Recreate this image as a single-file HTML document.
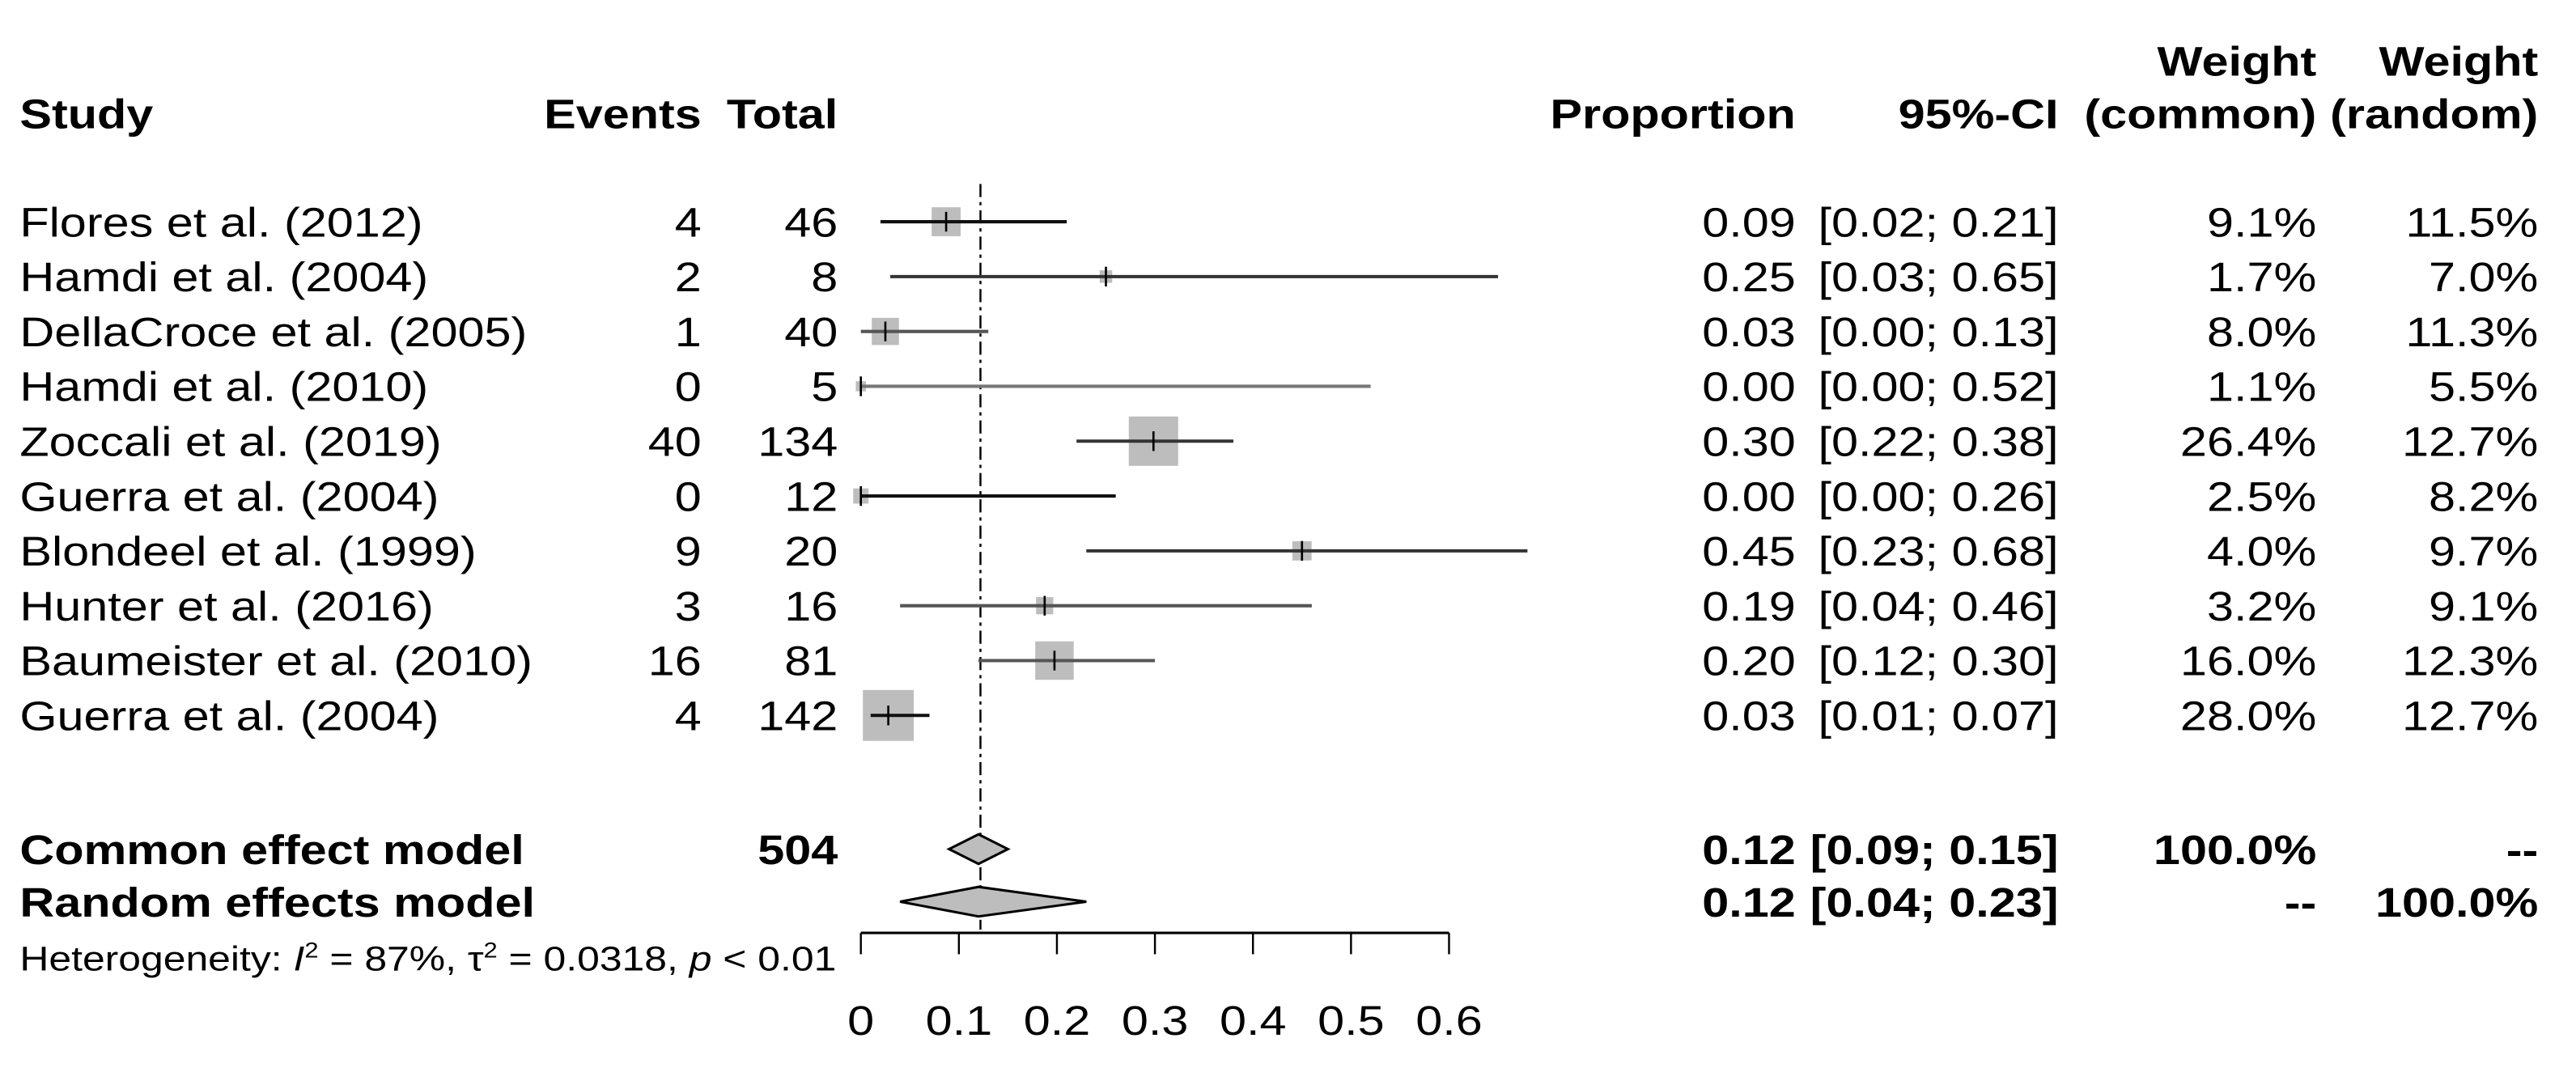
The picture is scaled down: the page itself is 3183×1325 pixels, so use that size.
<!DOCTYPE html>
<html><head><meta charset="utf-8"><style>
html,body{margin:0;padding:0;background:#fff;}
svg{display:block;}
text{font-family:"Liberation Sans",Arial,sans-serif;fill:#000;}
</style></head><body>
<svg id="chart" width="3183" height="1325" viewBox="0 0 1568 652.7" preserveAspectRatio="none" xmlns="http://www.w3.org/2000/svg"></svg>
<script>
const studies=["Flores et al. (2012)","Hamdi et al. (2004)","DellaCroce et al. (2005)","Hamdi et al. (2010)","Zoccali et al. (2019)","Guerra et al. (2004)","Blondeel et al. (1999)","Hunter et al. (2016)","Baumeister et al. (2010)","Guerra et al. (2004)"];
const events=[4,2,1,0,40,0,9,3,16,4];
const totals=[46,8,40,5,134,12,20,16,81,142];
const props=[0.087,0.25,0.025,0,0.2985,0,0.45,0.1875,0.1975,0.028];
const ciLow=[0.02,0.03,0.00,0.00,0.22,0.00,0.23,0.04,0.12,0.01];
const ciHigh=[0.21,0.65,0.13,0.52,0.38,0.26,0.68,0.46,0.30,0.07];
const wCommon=[9.1,1.7,8.0,1.1,26.4,2.5,4.0,3.2,16.0,28.0];
const wRandom=[11.5,7.0,11.3,5.5,12.7,8.2,9.7,9.1,12.3,12.7];
const propLabels=["0.09","0.25","0.03","0.00","0.30","0.00","0.45","0.19","0.20","0.03"];
const ciLabels=["[0.02; 0.21]","[0.03; 0.65]","[0.00; 0.13]","[0.00; 0.52]","[0.22; 0.38]","[0.00; 0.26]","[0.23; 0.68]","[0.04; 0.46]","[0.12; 0.30]","[0.01; 0.07]"];
const lineColors=["#111","#333","#555","#777","#333","#111","#333","#555","#555","#111"];
const pooledNames=["Common effect model","Random effects model"];
const pooledEst=[0.12,0.12];
const pooledLow=[0.09,0.04];
const pooledHigh=[0.15,0.23];
const pooledCI=["[0.09; 0.15]","[0.04; 0.23]"];
const pooledWC=["100.0%","--"];
const pooledWR=["--","100.0%"];
const ticks=[0,0.1,0.2,0.3,0.4,0.5,0.6];
const refLine=0.122;

const svg=document.getElementById('chart');
const NS="http://www.w3.org/2000/svg";
const x0=524, pxPer=596.7;
const SX=1.17;
const FS=25;
const X=v=>x0+v*pxPer;
const rowY=i=>135+i*33.4;
function mk(tag,attrs){const e=document.createElementNS(NS,tag);for(const k in attrs)e.setAttribute(k,attrs[k]);svg.appendChild(e);return e;}
function txt(s,x,y,anchor,size,bold){const t=mk('text',{x:x/SX,y:y,transform:`scale(${SX},1)`,'text-anchor':anchor||'start','font-size':size||FS,'font-weight':bold?'bold':'normal'});t.textContent=s;return t;}

let t;
t=txt("Weight",1410,46,'end',FS,true);


t=txt("Weight",1545,46,'end',FS,true);


const heads=[["Study",12,'start'],["Events",427,'end'],["Total",510,'end'],["Proportion",1093,'end'],["95%-CI",1253,'end'],["(common)",1410,'end'],["(random)",1545,'end']];
heads.forEach(h=>{const e=txt(h[0],h[1],78,h[2],FS,true);

});

t=mk('line',{x1:X(refLine),x2:X(refLine),y1:112,y2:566,stroke:'#000','stroke-width':1.2,'stroke-dasharray':'8,3,2,3'});



studies.forEach((s,i)=>{
  const y=rowY(i);
  let e=txt(s,12,y+9,'start',FS,false);
  
  
  e=txt(String(events[i]),427,y+9,'end',FS,false);
  
  
  e=txt(String(totals[i]),510,y+9,'end',FS,false);
  
  
  const side=5.85*Math.sqrt(wCommon[i]);
  e=mk('rect',{x:X(props[i])-side/2,y:y-side/2,width:side,height:side,fill:'#bdbdbd'});
  
  
  e=mk('line',{x1:X(ciLow[i]),x2:X(ciHigh[i]),y1:y,y2:y,stroke:lineColors[i],'stroke-width':2});
  
  
  e=mk('line',{x1:X(props[i]),x2:X(props[i]),y1:y-6,y2:y+6,stroke:'#000','stroke-width':1.3});
  
  
  e=txt(propLabels[i],1093,y+9,'end',FS,false);
  
  
  e=txt(ciLabels[i],1253,y+9,'end',FS,false);
  
  
  e=txt(wCommon[i].toFixed(1)+"%",1410,y+9,'end',FS,false);
  
  
  e=txt(wRandom[i].toFixed(1)+"%",1545,y+9,'end',FS,false);
  
  
});

const pY=[517,549];
pooledNames.forEach((n,i)=>{
  const y=pY[i];
  let e=txt(n,12,y+9,'start',FS,true);
  
  
  if(i===0){e=txt("504",510,y+9,'end',FS,true);
  
  }
  const h=9;
  e=mk('polygon',{points:`${X(pooledLow[i])},${y} ${X(pooledEst[i])},${y-h} ${X(pooledHigh[i])},${y} ${X(pooledEst[i])},${y+h}`,fill:'#bdbdbd',stroke:'#000','stroke-width':1.5});
  
  
  e=txt(pooledEst[i].toFixed(2),1093,y+9,'end',FS,true);
  
  
  e=txt(pooledCI[i],1253,y+9,'end',FS,true);
  
  
  e=txt(pooledWC[i],1410,y+9,'end',FS,true);
  
  
  e=txt(pooledWR[i],1545,y+9,'end',FS,true);
  
  
});

let ax=mk('line',{x1:X(ticks[0]),x2:X(ticks[ticks.length-1]),y1:568,y2:568,stroke:'#000','stroke-width':1.5});


ticks.forEach(v=>{
  let e=mk('line',{x1:X(v),x2:X(v),y1:568,y2:581,stroke:'#000','stroke-width':1.2});
  
  
  e=txt(String(v),X(v),630,'middle',FS,false);
  
  
});

const het=mk('text',{x:12/SX,y:591,'font-size':21,transform:`scale(${SX},1)`});


het.innerHTML='Heterogeneity: <tspan font-style="italic">I</tspan><tspan font-size="13" dy="-8">2</tspan><tspan dy="8"> = 87%, τ</tspan><tspan font-size="13" dy="-8">2</tspan><tspan dy="8"> = 0.0318, </tspan><tspan font-style="italic">p</tspan> &lt; 0.01';
</script>
</body></html>
